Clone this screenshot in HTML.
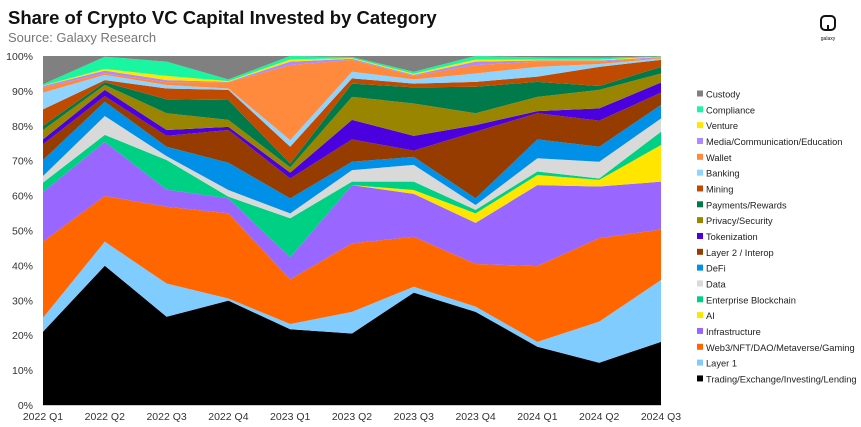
<!DOCTYPE html>
<html><head><meta charset="utf-8"><style>
body{margin:0;background:#fff;font-family:"Liberation Sans",sans-serif;}
#wrap{position:relative;width:861px;height:427px;overflow:hidden;}
</style></head><body>
<div id="wrap">
<svg id="chart" width="861" height="427">
<text x="8" y="24" font-size="18.5" font-weight="bold" fill="#111">Share of Crypto VC Capital Invested by Category</text>
<text x="8" y="42" font-size="13" fill="#777">Source: Galaxy Research</text>
<g><rect x="821" y="16" width="14" height="14" rx="4" fill="none" stroke="#111" stroke-width="2"/><line x1="828" y1="25" x2="828" y2="31" stroke="#111" stroke-width="2"/><text x="828" y="40" font-size="5" text-anchor="middle" fill="#111">galaxy</text></g>
<g id="areas"></g><g id="axes"></g><g id="legend"></g>
</svg></div>
<script>
const categories=["2022 Q1","2022 Q2","2022 Q3","2022 Q4","2023 Q1","2023 Q2","2023 Q3","2023 Q4","2024 Q1","2024 Q2","2024 Q3"];
const seriesNames=["Trading/Exchange/Investing/Lending","Layer 1","Web3/NFT/DAO/Metaverse/Gaming","Infrastructure","AI","Enterprise Blockchain","Data","DeFi","Layer 2 / Interop","Tokenization","Privacy/Security","Payments/Rewards","Mining","Banking","Wallet","Media/Communication/Education","Venture","Compliance","Custody"];
const seriesColors=["#000000","#80ccff","#ff6600","#9966ff","#ffe500","#00d084","#d9d9d9","#0090e8","#963c00","#4b00e0","#9a8500","#007a4a","#c04a00","#8fd3ff","#ff8a3d","#b088ff","#ffe800","#19f5a0","#808080"];
const trading=[21,39.9,25.3,29.9,21.7,20.5,32.2,26.7,16.7,12.1,18.1];
const layer1=[4,6.9,9.5,0.6,1.5,6.2,1.7,1.5,1.4,11.8,17.7];
const web3=[21.8,13.1,22,24.4,12.8,19.6,14.3,12.2,21.7,23.9,14.5];
const infra=[14.2,15.5,4.9,4.3,6.3,16.7,12.3,11.8,23.2,14.8,13.7];
const ai=[0,0,0,0,0,0,1.1,2.7,2.9,1.9,10.5];
const enterprise=[2.7,2,8.5,0.5,11.2,1,2.4,1,1,0.4,3.8];
const data=[1.9,5.4,1.1,1.9,1.4,3.3,4.8,1.4,3.8,4.8,3.8];
const defi=[4.6,4.1,2.7,7.8,4.3,2.4,2.3,1.9,5.4,4.3,3.9];
const layer2=[4.5,1.6,3.1,9.4,5.7,6.4,1.8,19.1,7.5,7.5,3.5];
const tokenization=[1.4,1.8,1.7,0.9,1.7,5.6,4.2,1.9,0.6,3.5,2.9];
const privacy=[2.7,1.4,4.8,2,1.5,6.6,9.3,3.4,4.1,5.3,2.6];
const payments=[1.2,0.8,4,5.7,1.1,3.8,4.6,7.6,4.3,1.1,1.9];
const mining=[4.7,0.6,3.1,2.9,4.8,1.5,1.1,1.4,1.5,5.5,2];
const banking=[4.8,1.5,1,0.4,1.9,1.9,1.2,2.4,2.8,0.8,0.4];
const wallet=[1.5,0.4,0.8,1.8,21.5,3.4,1,2.4,1.5,0.7,0.2];
const media=[0.4,0.8,0.6,0.1,1,0.3,0.3,1,0.3,0.3,0.2];
const venture=[0.1,0.5,1.2,0.2,0.6,0.2,0.3,0.6,0.3,0.3,0.1];
const compliance=[0.4,3.5,4.1,0.5,1,0.3,0.6,1,0.6,0.5,0.1];
const custody=[8.1,0.2,1.6,6.7,0,0.3,4.5,0,0.4,0.5,0.1];
const yTicks=[0,10,20,30,40,50,60,70,80,90,100];
const allSeries=[trading,layer1,web3,infra,ai,enterprise,data,defi,layer2,tokenization,privacy,payments,mining,banking,wallet,media,venture,compliance,custody];
const X0=43,X1=661,Y0=405,Y1=56;
function xs(i){return X0+(X1-X0)*i/(categories.length-1);}
function ys(v){return Y0-(Y0-Y1)*v/100;}
const NS="http://www.w3.org/2000/svg";
const areas=document.getElementById('areas'),axes=document.getElementById('axes'),legend=document.getElementById('legend');
let base=categories.map(()=>0);
allSeries.forEach((s,k)=>{
  const top=base.map((b,i)=>b+s[i]);
  let d="M"+categories.map((c,i)=>xs(i)+","+ys(Math.min(top[i],100))).join(" L");
  for(let i=categories.length-1;i>=0;i--)d+=" L"+xs(i)+","+ys(Math.min(base[i],100));
  const p=document.createElementNS(NS,'path');
  p.setAttribute('d',d+"Z");p.setAttribute('fill',seriesColors[k]);
  
  
  areas.appendChild(p);base=top;
});
const ax=document.createElementNS(NS,'line');
ax.setAttribute('x1',X0);ax.setAttribute('x2',X1);ax.setAttribute('y1',Y0+0.5);ax.setAttribute('y2',Y0+0.5);ax.setAttribute('stroke','#ccc');


axes.appendChild(ax);
yTicks.forEach(v=>{const t=document.createElementNS(NS,'text');t.setAttribute('x',33);t.setAttribute('y',ys(v)+4);t.setAttribute('text-anchor','end');t.setAttribute('font-size','10.5');t.setAttribute('fill','#333');t.textContent=v+"%";


axes.appendChild(t);});
categories.forEach((c,i)=>{const t=document.createElementNS(NS,'text');t.setAttribute('x',xs(i));t.setAttribute('y',420);t.setAttribute('text-anchor','middle');t.setAttribute('font-size','10.5');t.setAttribute('fill','#333');t.textContent=c;


axes.appendChild(t);});
for(let k=allSeries.length-1;k>=0;k--){const row=allSeries.length-1-k;const y=94+row*15.83;
 const g=document.createElementNS(NS,'g');
 
 
 const r=document.createElementNS(NS,'rect');r.setAttribute('x',697);r.setAttribute('y',y-3.5);r.setAttribute('width',6);r.setAttribute('height',6);r.setAttribute('fill',seriesColors[k]);
 const t=document.createElementNS(NS,'text');t.setAttribute('x',706);t.setAttribute('y',y+3.5);t.setAttribute('font-size','9.3');t.setAttribute('fill','#222');t.textContent=seriesNames[k];
 g.appendChild(r);g.appendChild(t);legend.appendChild(g);}
</script>
</body></html>
